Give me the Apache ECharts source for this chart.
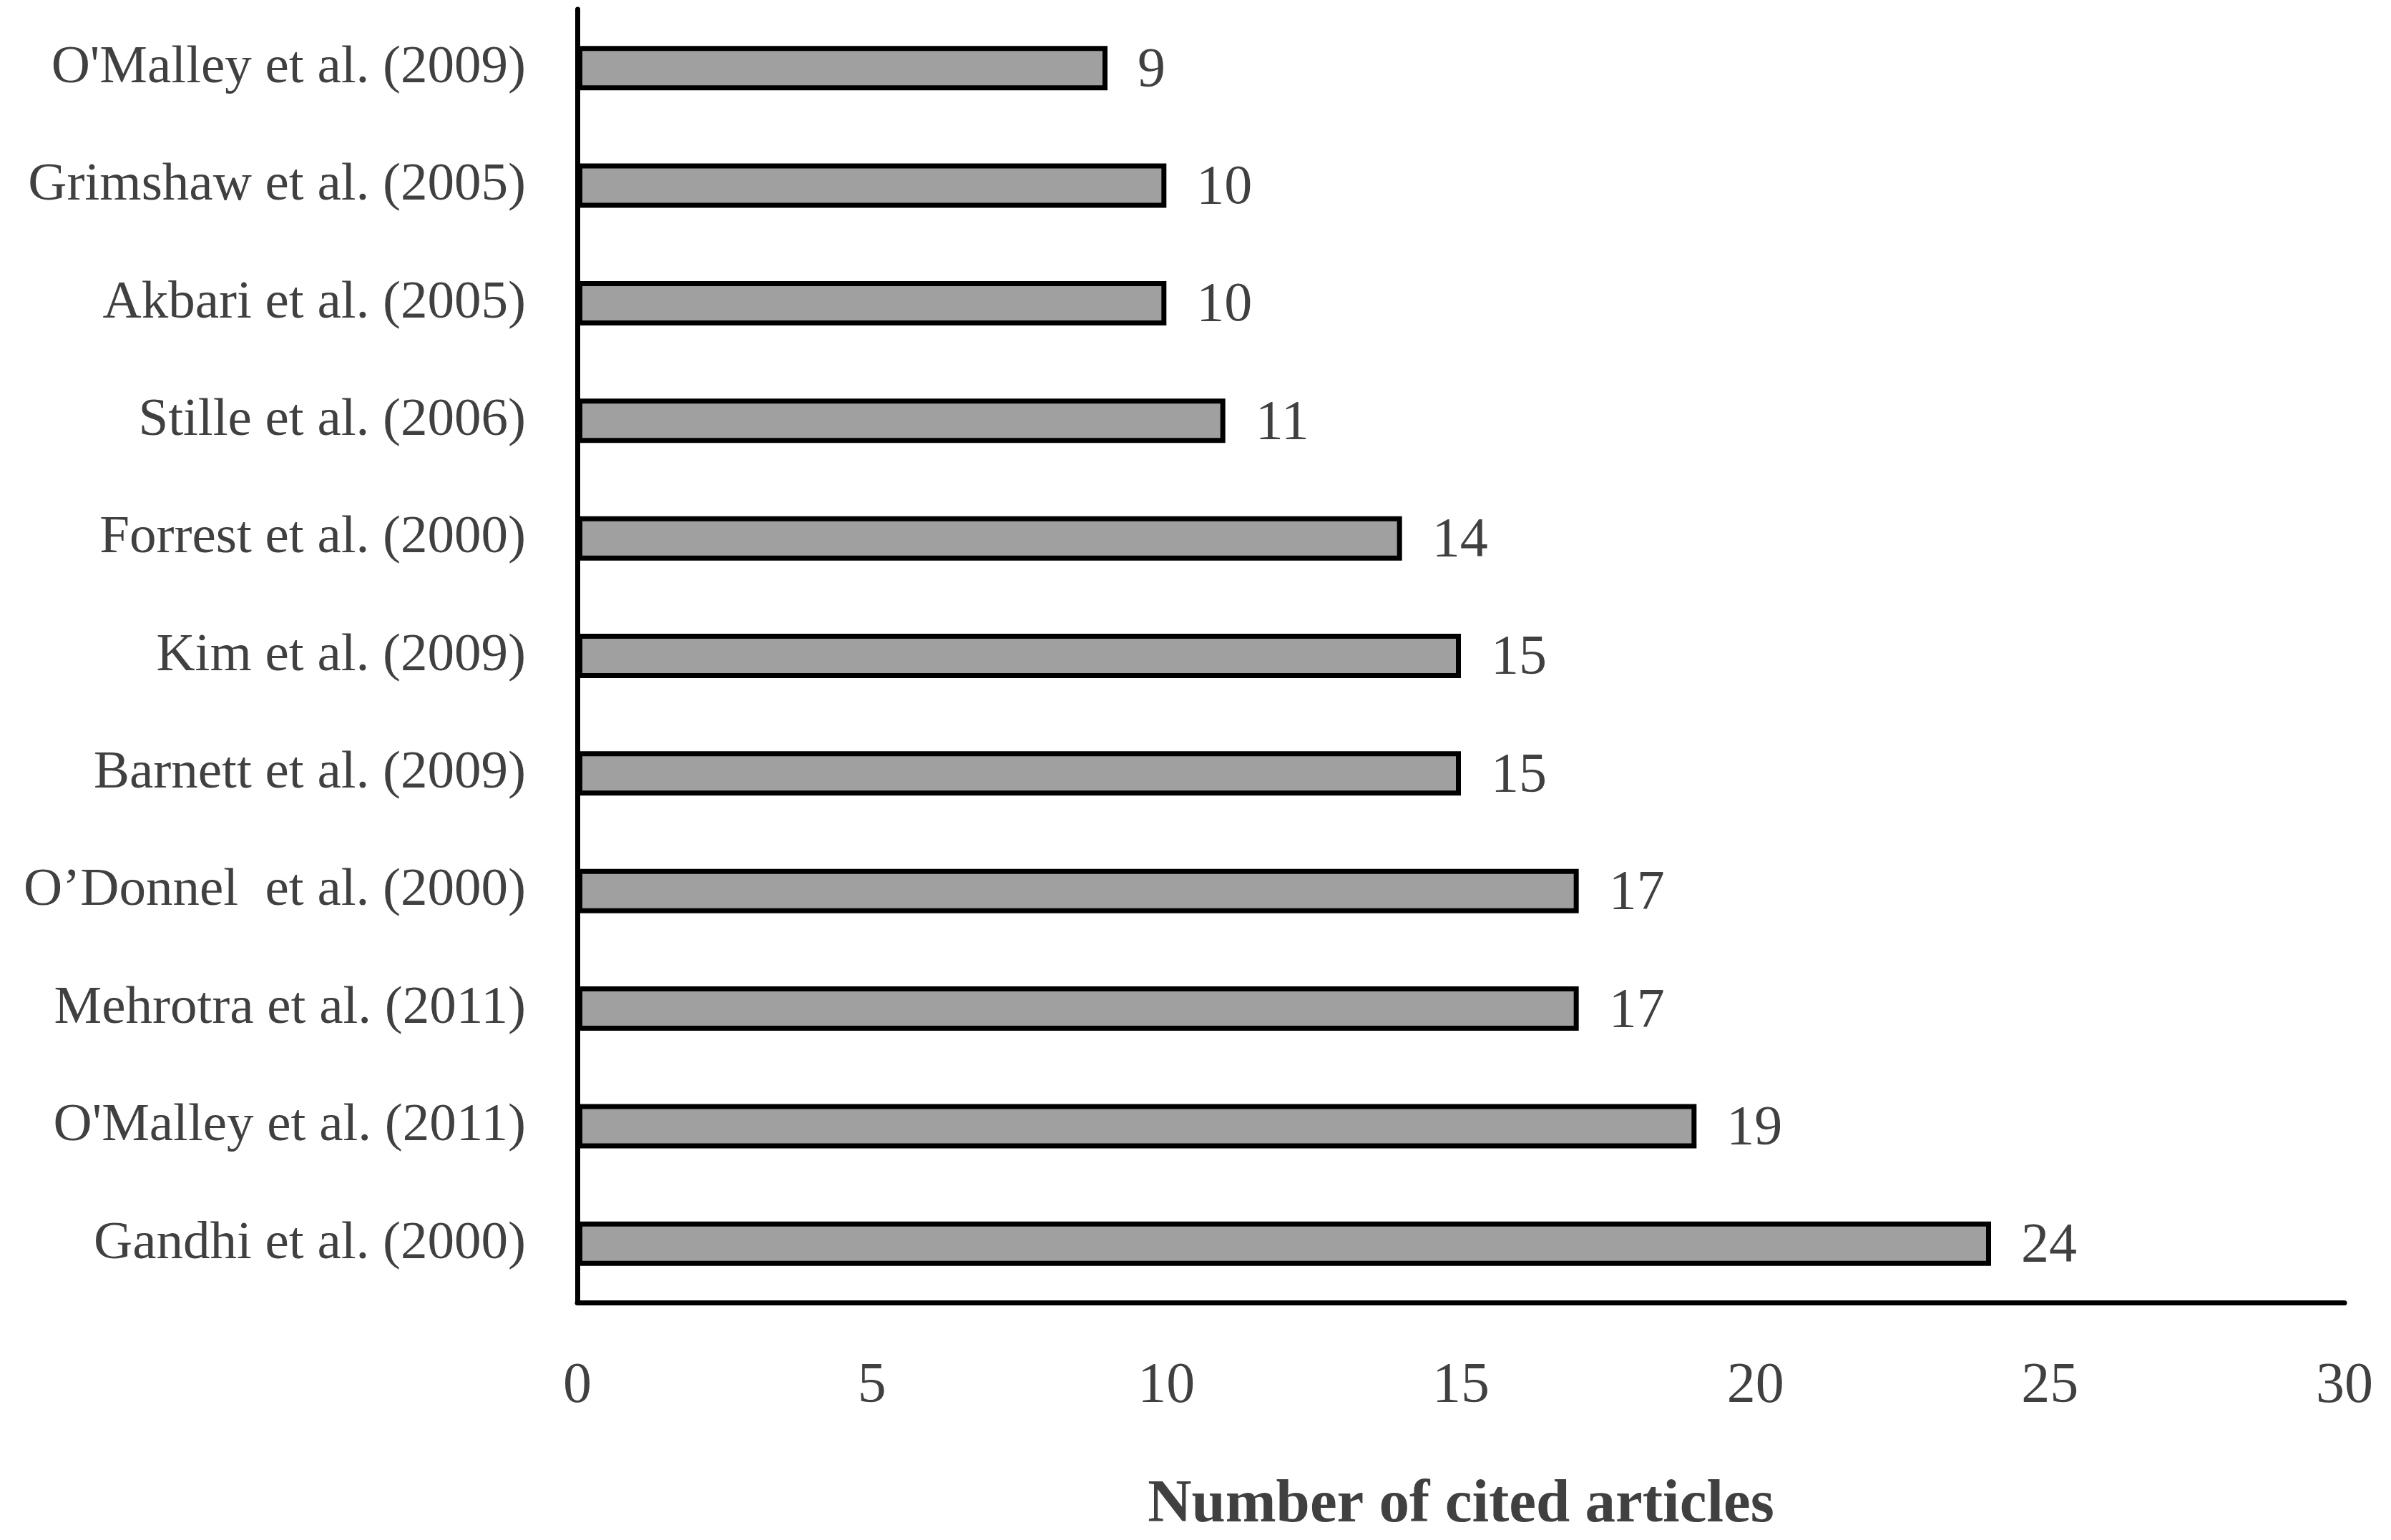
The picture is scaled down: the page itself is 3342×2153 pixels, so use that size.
<!DOCTYPE html>
<html>
<head>
<meta charset="utf-8">
<script src="https://cdn.jsdelivr.net/npm/echarts@6/dist/echarts.min.js"></script>
<style>
html,body{margin:0;padding:0;background:#fff;}
#chart{width:3342px;height:2153px;}
</style>
</head>
<body>
<div id="chart"></div>
<script>
// Categories listed bottom to top (ECharts category y-axis order)
const categories = [
  "Gandhi et al. (2000)",
  "O'Malley et al. (2011)",
  "Mehrotra et al. (2011)",
  "O\u2019Donnel  et al. (2000)",
  "Barnett et al. (2009)",
  "Kim et al. (2009)",
  "Forrest et al. (2000)",
  "Stille et al. (2006)",
  "Akbari et al. (2005)",
  "Grimshaw et al. (2005)",
  "O'Malley et al. (2009)"
];
const citedArticles = [24, 19, 17, 17, 15, 15, 14, 11, 10, 10, 9];
const xAxisTitle = "Number of cited articles";
const xMin = 0, xMax = 30, xStep = 5;

const FONT = '"Liberation Serif", "DejaVu Serif", serif';
const chart = echarts.init(document.getElementById('chart'), null, {renderer: 'canvas'});
chart.setOption({
  animation: false,
  backgroundColor: '#ffffff',
  grid: {left: 807, right: 65, top: 13, bottom: 315, containLabel: false},
  xAxis: {
    type: 'value',
    min: xMin, max: xMax, interval: xStep,
    splitLine: {show: false},
    axisTick: {show: false},
    axisLine: {show: true, lineStyle: {color: '#000', width: 7}},
    axisLabel: {margin: 78, color: '#404040', fontFamily: FONT, fontSize: 80},
    name: xAxisTitle,
    nameLocation: 'middle',
    nameGap: 242,
    nameTextStyle: {color: '#404040', fontFamily: FONT, fontSize: 85, fontWeight: 'bold'}
  },
  yAxis: {
    type: 'category',
    data: categories,
    axisTick: {show: false},
    axisLine: {show: true, lineStyle: {color: '#000', width: 7}},
    axisLabel: {margin: 72, color: '#404040', fontFamily: FONT, fontSize: 75}
  },
  series: [{
    type: 'bar',
    data: citedArticles,
    barWidth: 62,
    itemStyle: {color: '#a0a0a0', borderColor: '#000', borderWidth: 7},
    label: {
      show: true, position: 'right', distance: 42,
      color: '#404040', fontFamily: FONT, fontSize: 78,
      offset: [0, 4]
    }
  }]
});
</script>
</body>
</html>
